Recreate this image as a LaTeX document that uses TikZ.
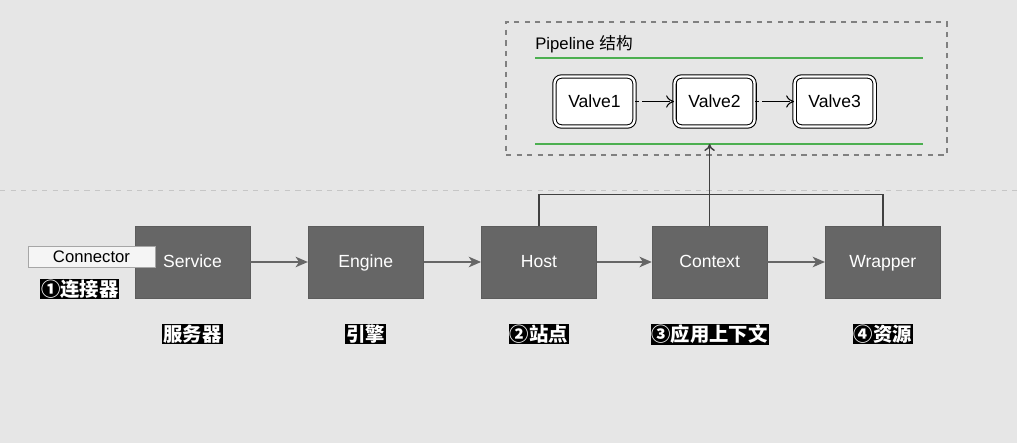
\documentclass[tikz,border=0pt]{standalone}
\usepackage{fontspec}
\setmainfont{Liberation Sans}
\newfontfamily\cjk{Noto Sans CJK SC}
\usepackage{tikz}
\usetikzlibrary{positioning, arrows.meta, calc}
\definecolor{PageGrey}{HTML}{E6E6E6}
\definecolor{BoxGrey}{HTML}{666666}
\definecolor{LineGreen}{HTML}{4CAF50}

\begin{document}
\begin{tikzpicture}[
    node distance=1.15cm,
    comp/.style={rectangle, draw=BoxGrey!90!black, fill=BoxGrey, text=white,
                 minimum width=2.3cm, minimum height=1.44cm, text height=1.6ex, text depth=0.4ex,
                 font=\fontsize{10}{12}\selectfont},
    connbox/.style={rectangle, draw=gray!70, fill=gray!8, minimum width=2.54cm,
                    minimum height=0.42cm, inner sep=0pt, font=\fontsize{9.5}{11}\selectfont},
    valvebox/.style={rectangle, rounded corners=4pt, draw=black, double=white,
                     double distance=1.3pt, line width=0.6pt, fill=white,
                     minimum width=1.6cm, minimum height=1.0cm, font=\fontsize{10}{12}\selectfont},
    tag/.style={rectangle, fill=black, text=white, inner sep=0.6pt,
                font=\cjk\bfseries\fontsize{11}{13}\selectfont},
    flow/.style={-{Stealth[length=7pt, width=6pt, inset=2pt]}, draw=BoxGrey, line width=0.9pt},
    vflow/.style={-{To[length=4.5pt, width=7pt]}, line width=0.6pt, dash pattern=on 2pt off 2pt on 14pt off 0pt},
    bus/.style={draw=black!75, line width=0.8pt}
]
\useasboundingbox[fill=PageGrey] (0,0) rectangle (20.34,8.86);

% separator between pipeline and containers
\draw[gray!45, dashed, line width=0.5pt] (0,5.06) -- (20.34,5.06);

% Pipeline frame
\node[rectangle, draw=gray, dashed, line width=0.6pt, minimum width=8.82cm,
      minimum height=2.66cm] (pipeline) at (14.53,7.09) {};
\node[anchor=west, inner sep=0pt, font=\fontsize{9.5}{11}\selectfont] (pipetitle)
      at (10.7,7.98) {Pipeline {\cjk 结构}};
\coordinate (gtopl) at (10.7,7.7);
\coordinate (gtopr) at (18.46,7.7);
\coordinate (glowl) at (10.7,5.98);
\coordinate (glowr) at (18.46,5.98);
\draw[LineGreen, line width=0.8pt] (gtopl) -- (gtopr);
\draw[LineGreen, line width=0.8pt] (glowl) -- (glowr);

% Valves
\node[valvebox] (valve1) at (11.89,6.83) {Valve1};
\node[valvebox, right=0.78cm of valve1] (valve2) {Valve2};
\node[valvebox, right=0.78cm of valve2] (valve3) {Valve3};
\draw[vflow] (valve1) -- (valve2);
\draw[vflow] (valve2) -- (valve3);

% Containers
\node[comp] (service) at (3.85,3.62) {Service};
\node[comp, right=of service] (engine) {Engine};
\node[comp, right=of engine] (host) {Host};
\node[comp, right=1.1cm of host] (context) {Context};
\node[comp, right=of context] (wrapper) {Wrapper};

\node[connbox] (connector) at (1.83,3.73) {Connector};

% Labels
\node[tag, below right=0.22cm and 0.24cm of connector.south west] (tconn) {①连接器};
\node[tag, below=0.5cm of service] (tservice) {服务器};
\node[tag, below=0.5cm of engine] (tengine) {引擎};
\node[tag, below=0.5cm of host] (thost) {②站点};
\node[tag, below=0.5cm of context] (tcontext) {③应用上下文};
\node[tag, below=0.5cm of wrapper] (twrapper) {④资源};

% Arrows
\draw[flow] (service) -- (engine);
\draw[flow] (engine) -- (host);
\draw[flow] (host) -- (context);
\draw[flow] (context) -- (wrapper);

% Pipeline hooks
\coordinate (pipein) at (context.north |- glowl);
\draw[bus] (host.north) -- ++(0,0.62) -| (wrapper.north);
\draw[bus, -{To[length=4pt, width=6pt]}] (context.north) -- (pipein);

\end{tikzpicture}
\end{document}
